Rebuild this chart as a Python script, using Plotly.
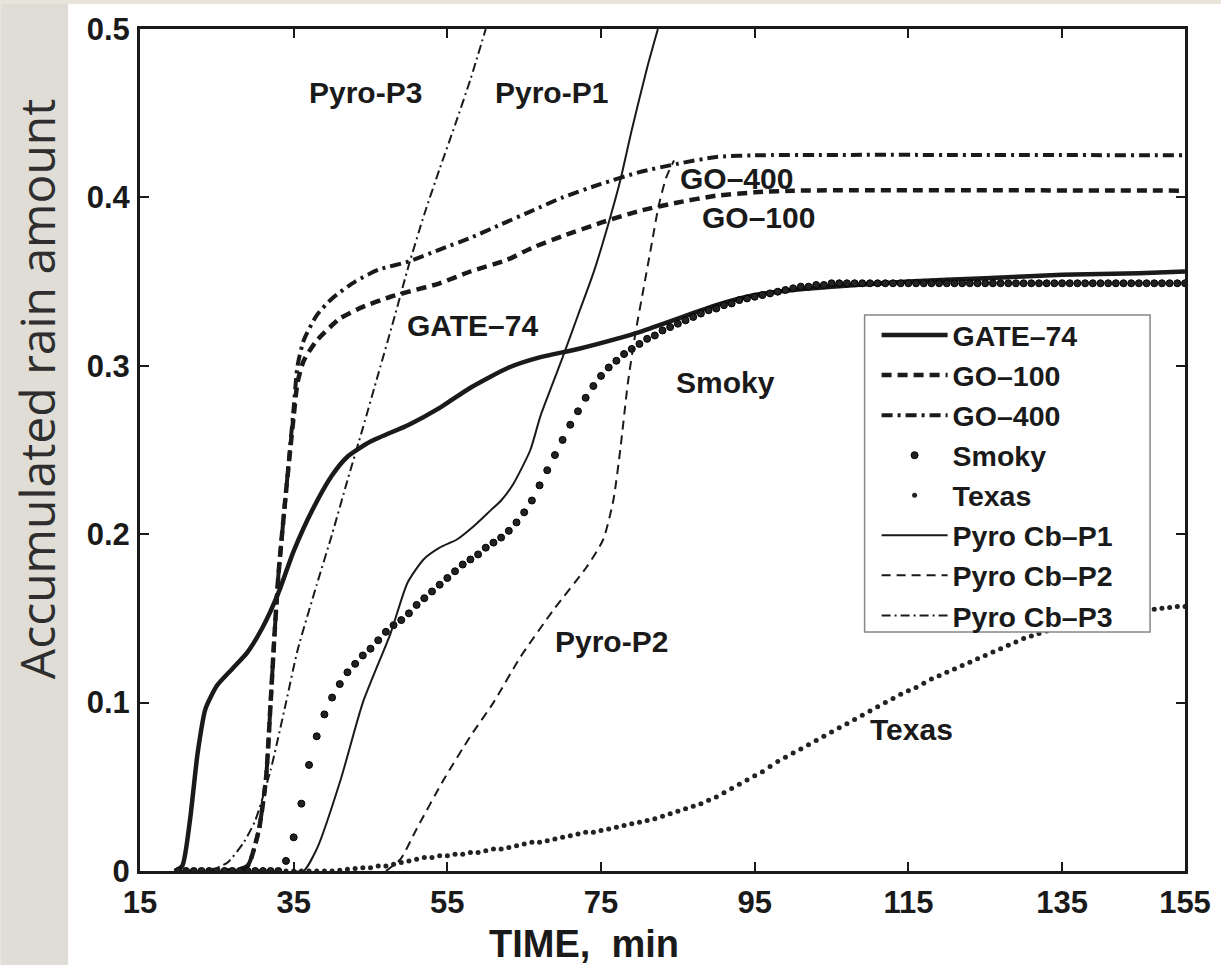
import plotly.graph_objects as go

# ---------------- data ----------------
GATE_T = [19.5, 20.5, 21.5, 22.5, 23.5, 25, 27, 29, 31, 33, 35, 37.5, 40, 42, 45, 50, 54, 58, 63, 67, 72, 77, 80, 85, 90, 95, 100, 105, 115, 125, 135, 145, 151]
GATE_V = [0, 0.003, 0.03, 0.07, 0.096, 0.11, 0.12, 0.13, 0.145, 0.165, 0.19, 0.215, 0.235, 0.246, 0.255, 0.265, 0.275, 0.287, 0.299, 0.305, 0.31, 0.316, 0.32, 0.328, 0.336, 0.342, 0.345, 0.347, 0.35, 0.352, 0.354, 0.355, 0.356]

GO100_T = [26, 28, 29, 29.5, 30.5, 31.4, 32, 32.5, 33, 34, 35, 35.5, 36.3, 38, 41, 44, 47.6, 50, 54, 58, 62.8, 66, 70, 75, 80, 85, 90, 95, 100, 151]
GO100_V = [0, 0.001, 0.003, 0.008, 0.025, 0.055, 0.1, 0.14, 0.175, 0.225, 0.27, 0.29, 0.303, 0.315, 0.328, 0.335, 0.341, 0.344, 0.349, 0.356, 0.363, 0.37, 0.377, 0.385, 0.392, 0.397, 0.401, 0.403, 0.404, 0.404]

GO400_T = [26, 28, 29, 29.5, 30.5, 31.4, 32, 32.5, 33, 34, 35, 35.5, 36.3, 38, 40, 43, 46, 50, 54, 58, 62, 66, 70, 75, 80, 85, 90, 95, 151]
GO400_V = [0, 0.001, 0.003, 0.008, 0.025, 0.055, 0.1, 0.14, 0.175, 0.225, 0.275, 0.3, 0.315, 0.33, 0.34, 0.35, 0.357, 0.362, 0.369, 0.376, 0.384, 0.392, 0.4, 0.408, 0.415, 0.42, 0.424, 0.425, 0.425]

SMOKY_T0 = 20  # one sample per minute
SMOKY_V = [0, 0, 0, 0, 0, 0, 0, 0, 0, 0, 0, 0, 0, 0,
           0.006, 0.02, 0.04, 0.063, 0.08, 0.093, 0.103, 0.111, 0.118, 0.123,
           0.128, 0.132, 0.137, 0.142, 0.146, 0.149, 0.153, 0.158, 0.162, 0.166,
           0.17, 0.174, 0.178, 0.182, 0.185, 0.188, 0.192, 0.195, 0.198, 0.202,
           0.207, 0.213, 0.22, 0.229, 0.238, 0.247, 0.256, 0.265, 0.273, 0.281,
           0.288, 0.294, 0.299, 0.303, 0.307, 0.31, 0.313, 0.316, 0.318, 0.321,
           0.323, 0.325, 0.327, 0.329, 0.331, 0.333, 0.334, 0.336, 0.337, 0.339,
           0.34, 0.341, 0.342, 0.343, 0.344, 0.345, 0.346, 0.347, 0.347, 0.348,
           0.348, 0.349, 0.349, 0.349, 0.349, 0.349, 0.349, 0.349, 0.349, 0.349,
           0.349, 0.349, 0.349, 0.349, 0.349, 0.349, 0.349, 0.349, 0.349, 0.349,
           0.349, 0.349, 0.349, 0.349, 0.349, 0.349, 0.349, 0.349, 0.349, 0.349,
           0.349, 0.349, 0.349, 0.349, 0.349, 0.349, 0.349, 0.349, 0.349, 0.349,
           0.349, 0.349, 0.349, 0.349, 0.349, 0.349, 0.349, 0.349]

TEXAS_T0 = 20  # one sample per minute
TEXAS_V = [0, 0, 0, 0, 0, 0, 0, 0, 0, 0, 0, 0, 0, 0, 0, 0, 0, 0, 0, 0, 0,
           0.0005, 0.001, 0.0015, 0.002, 0.002, 0.003, 0.003, 0.004, 0.005, 0.006,
           0.007, 0.008, 0.008, 0.009, 0.009, 0.01, 0.01, 0.011, 0.011, 0.012,
           0.013, 0.013, 0.014, 0.015, 0.016, 0.017, 0.017, 0.018, 0.019, 0.02,
           0.021, 0.022, 0.023, 0.023, 0.024, 0.025, 0.026, 0.027, 0.028, 0.029,
           0.03, 0.031, 0.0325, 0.034, 0.0355, 0.037, 0.0385, 0.04, 0.042, 0.044,
           0.0465, 0.049, 0.0515, 0.054, 0.0565, 0.059, 0.062, 0.065, 0.0675, 0.07,
           0.0725, 0.075, 0.0775, 0.08, 0.0825, 0.085, 0.0875, 0.09, 0.0925, 0.095,
           0.0975, 0.1, 0.1025, 0.105, 0.107, 0.109, 0.1115, 0.114, 0.116, 0.118,
           0.12, 0.122, 0.124, 0.126, 0.128, 0.13, 0.132, 0.134, 0.136, 0.138,
           0.1395, 0.141, 0.1425, 0.144, 0.1455, 0.147, 0.148, 0.149, 0.150, 0.151,
           0.152, 0.153, 0.1535, 0.154, 0.1545, 0.155, 0.1555, 0.156, 0.1565, 0.157, 0.157]

P1_T = [35, 36.3, 38.1, 41.1, 44, 47.6, 49.8, 51.9, 54, 56.3, 58.5, 60.6, 62, 63.6, 65.8, 67.1, 68.5, 70, 72, 74, 76, 77.5, 79, 81, 82.4]
P1_V = [0, 0, 0.014, 0.054, 0.1, 0.141, 0.171, 0.185, 0.192, 0.197, 0.205, 0.214, 0.22, 0.23, 0.25, 0.27, 0.287, 0.305, 0.33, 0.355, 0.385, 0.41, 0.44, 0.477, 0.5]

P2_T = [47, 48.9, 51, 54.5, 58, 61, 64.5, 68.8, 73.2, 75.3, 76.6, 77.5, 78.5, 79.5, 80.5, 81.5, 82.5, 83.5, 84.5]
P2_V = [0, 0.007, 0.025, 0.054, 0.08, 0.1, 0.127, 0.155, 0.181, 0.197, 0.22, 0.25, 0.29, 0.32, 0.345, 0.37, 0.395, 0.412, 0.422]

P3_T = [23.5, 25, 26.4, 28.5, 30, 32, 34, 35.5, 38, 40, 42, 44, 46, 48, 50, 52, 54, 56, 58, 60]
P3_V = [0, 0.002, 0.005, 0.017, 0.03, 0.06, 0.1, 0.131, 0.17, 0.2, 0.232, 0.263, 0.295, 0.327, 0.36, 0.39, 0.417, 0.443, 0.47, 0.5]

X_TICKS = [15, 35, 55, 75, 95, 115, 135, 151]
X_TICKTEXT = ["15", "35", "55", "75", "95", "115", "135", "155"]
Y_TICKS = [0, 0.1, 0.2, 0.3, 0.4, 0.5]
Y_TICKTEXT = ["0", "0.1", "0.2", "0.3", "0.4", "0.5"]

LABELS = ["Pyro-P3", "Pyro-P1", "GO–400", "GO–100", "GATE–74", "Smoky", "Pyro-P2", "Texas"]
LABEL_X = [44.3, 68.5, 92.6, 95.5, 58.3, 91.2, 76.4, 115.4]
LABEL_Y = [0.462, 0.462, 0.411, 0.388, 0.324, 0.29, 0.136, 0.084]

# ---------------- figure ----------------
W, H = 1223, 965
ML, MR, MT, MB = 140, 36, 29, 94
PW, PH = W - ML - MR, H - MT - MB

def px(xp):
    return (xp - ML) / PW

def py(yp):
    return (H - MB - yp) / PH

BOLD = "Liberation Sans, Arial, sans-serif"
INK = "#1a1a1a"

fig = go.Figure()

fig.add_trace(go.Scatter(x=GATE_T, y=GATE_V, name="GATE–74", mode="lines",
                         line=dict(color=INK, width=4.5, shape="spline", smoothing=0.6)))
fig.add_trace(go.Scatter(x=GO100_T, y=GO100_V, name="GO–100", mode="lines",
                         line=dict(color=INK, width=4.5, dash="10px,6px", shape="spline", smoothing=0.6)))
fig.add_trace(go.Scatter(x=GO400_T, y=GO400_V, name="GO–400", mode="lines",
                         line=dict(color=INK, width=4, dash="11px,5px,3px,5px", shape="spline", smoothing=0.6)))
fig.add_trace(go.Scatter(x=[SMOKY_T0 + i for i in range(len(SMOKY_V))], y=SMOKY_V, name="Smoky",
                         mode="markers", marker=dict(color="#222", size=7, symbol="circle",
                                                     line=dict(color="#000", width=1))))
fig.add_trace(go.Scatter(x=[TEXAS_T0 + i for i in range(len(TEXAS_V))], y=TEXAS_V, name="Texas",
                         mode="markers", marker=dict(color="#222", size=5, symbol="circle")))
fig.add_trace(go.Scatter(x=P1_T, y=P1_V, name="Pyro Cb–P1", mode="lines",
                         line=dict(color=INK, width=2, shape="spline", smoothing=0.6)))
fig.add_trace(go.Scatter(x=P2_T, y=P2_V, name="Pyro Cb–P2", mode="lines",
                         line=dict(color=INK, width=2, dash="9px,6px", shape="spline", smoothing=0.6)))
fig.add_trace(go.Scatter(x=P3_T, y=P3_V, name="Pyro Cb–P3", mode="lines",
                         line=dict(color=INK, width=2, dash="9px,4px,2px,4px", shape="spline", smoothing=0.6)))

for t, xx, yy in zip(LABELS, LABEL_X, LABEL_Y):
    fig.add_annotation(x=xx, y=yy, text=t, showarrow=False, xref="x", yref="y",
                       font=dict(family=BOLD, size=30, color=INK, weight="bold"))

# x title (offset left of centre as in the original)
fig.add_annotation(x=px(585), y=py(944), xref="paper", yref="paper", text="TIME,  min",
                   xanchor="center", yanchor="middle",
                   showarrow=False, font=dict(family=BOLD, size=38, color=INK, weight="bold"))
# y title
fig.add_annotation(x=px(36), y=py(389), xref="paper", yref="paper", text="Accumulated rain amount",
                   textangle=-90, showarrow=False, xanchor="center", yanchor="middle",
                   font=dict(family="Open Sans, Noto Sans, sans-serif", size=48, color="#2e2e2e"))

# background strips (cloud-grey frame of the slide)
fig.add_shape(type="rect", xref="paper", yref="paper", x0=px(0), x1=px(68), y0=py(H), y1=py(0),
              fillcolor="#dfddd6", line=dict(width=0), layer="below")
fig.add_shape(type="rect", xref="paper", yref="paper", x0=px(0), x1=px(W), y0=py(4), y1=py(0),
              fillcolor="#e9e4da", line=dict(width=0), layer="below")
# legend frame (opaque, covers the curves beneath it)
fig.add_shape(type="rect", xref="paper", yref="paper", x0=px(866), x1=px(1152), y0=py(632), y1=py(315),
              fillcolor="white", line=dict(color="#888", width=1.5), layer="above")

axis_common = dict(showgrid=False, zeroline=False, showline=True, linecolor=INK, linewidth=3,
                   mirror="ticks", ticks="inside", ticklen=9, tickwidth=2, tickcolor=INK,
                   tickfont=dict(family=BOLD, size=31, color=INK, weight="bold"))

fig.update_xaxes(range=[15, 151], tickvals=X_TICKS, ticktext=X_TICKTEXT, ticklabelstandoff=2,
                 **axis_common)
fig.update_yaxes(range=[0, 0.5], tickvals=Y_TICKS, ticktext=Y_TICKTEXT, ticklabelstandoff=1,
                 **axis_common)

fig.update_layout(
    width=W, height=H,
    margin=dict(l=ML, r=MR, t=MT, b=MB),
    paper_bgcolor="white", plot_bgcolor="white",
    showlegend=True,
    legend=dict(x=px(878), y=py(310), xanchor="left", yanchor="top",
                bgcolor="rgba(0,0,0,0)", borderwidth=0,
                font=dict(family=BOLD, size=28.5, color=INK, weight="bold"),
                itemwidth=66, tracegroupgap=0),
)

fig.write_html("out.html")
